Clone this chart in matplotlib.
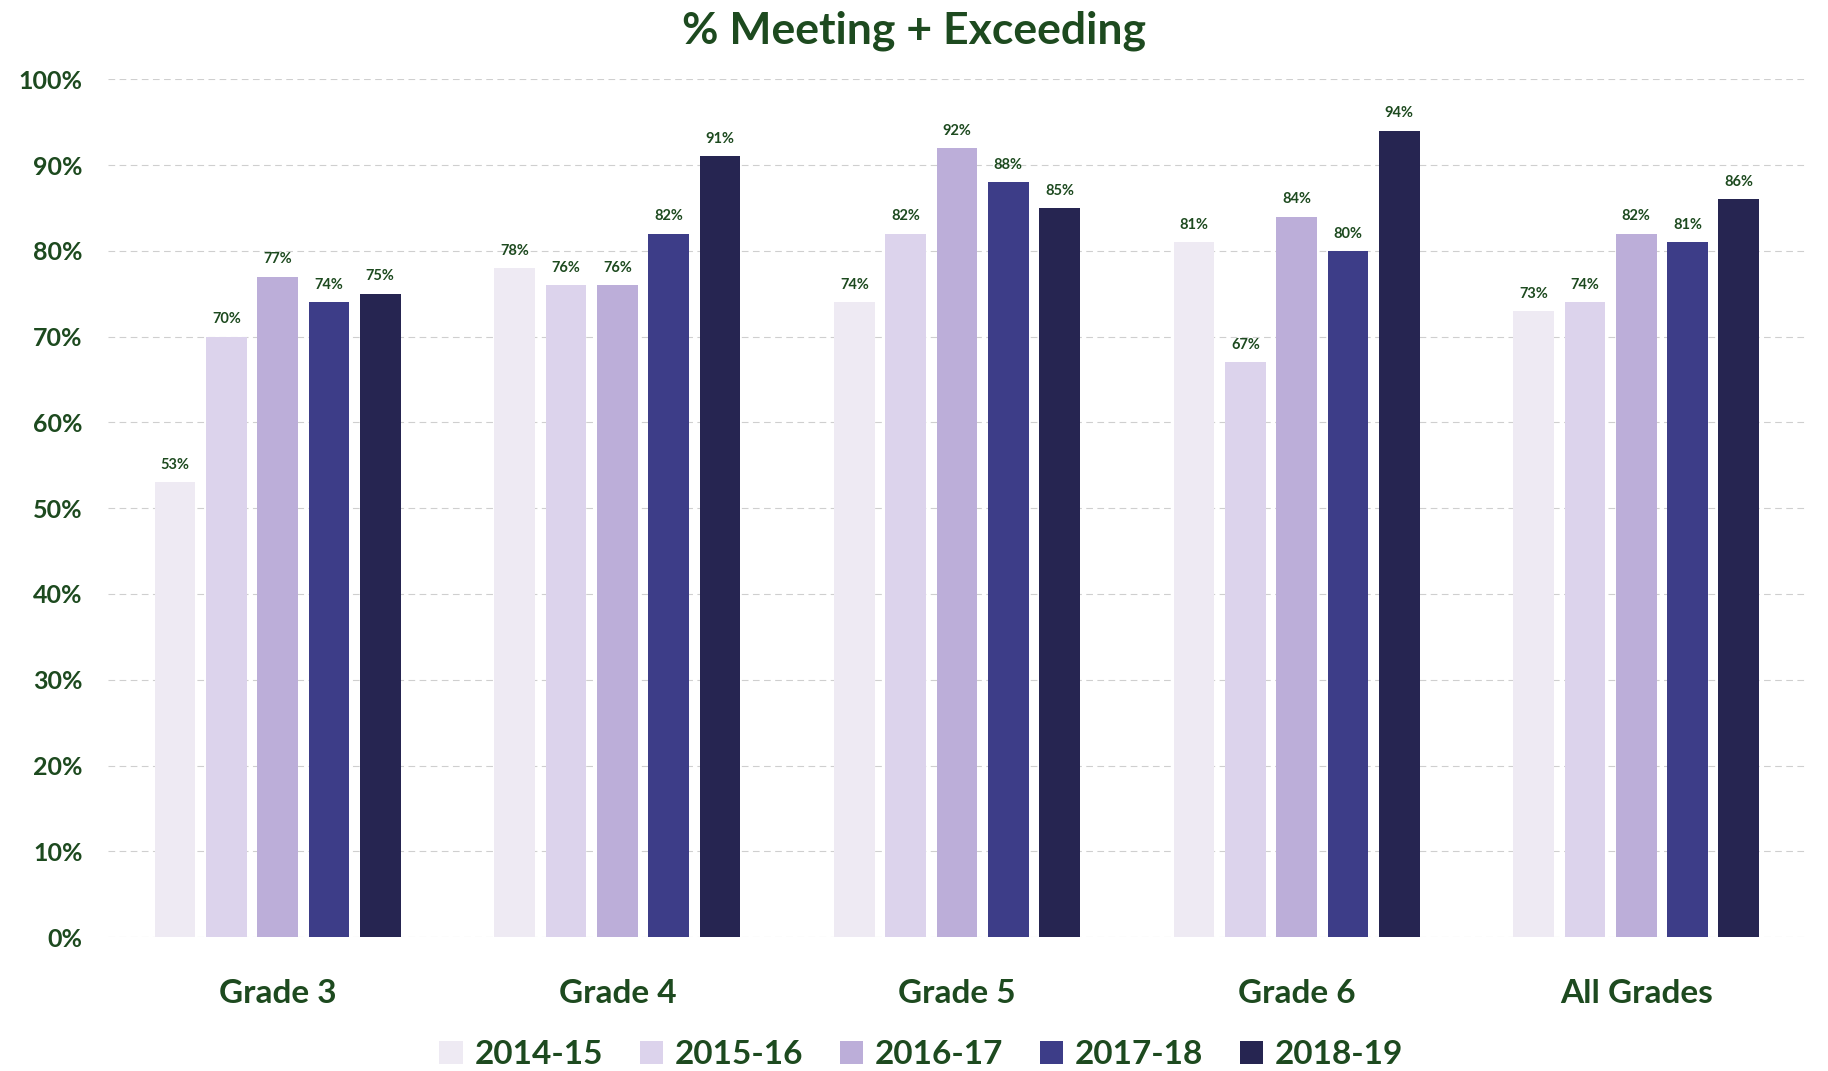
import numpy as np
import matplotlib.pyplot as plt

plt.rcParams['font.family'] = ['Lato', 'DejaVu Sans']

grades = ['Grade 3', 'Grade 4', 'Grade 5', 'Grade 6', 'All Grades']
years = ['2014-15', '2015-16', '2016-17', '2017-18', '2018-19']
v_2014 = [53, 78, 74, 81, 73]
v_2015 = [70, 76, 82, 67, 74]
v_2016 = [77, 76, 92, 84, 82]
v_2017 = [74, 82, 88, 80, 81]
v_2018 = [75, 91, 85, 94, 86]
series = [v_2014, v_2015, v_2016, v_2017, v_2018]
colors = ['#eeeaf3', '#dcd3ec', '#bcaed9', '#3d3d88', '#262551']
green = '#1d4a1f'

fig = plt.figure(figsize=(18.28, 10.71), dpi=100)
ax = fig.add_axes([0.059, 0.125, 0.929, 0.801])

x = np.arange(len(grades))
step = 0.151
width = 0.12
for i, (vals, c, yr) in enumerate(zip(series, colors, years)):
    pos = x + (i - 2) * step
    bars = ax.bar(pos, np.array(vals) / 100, width, color=c, label=yr, zorder=2)
    for b, v in zip(bars, vals):
        ax.text(b.get_x() + b.get_width() / 2, b.get_height() + 0.012, f'{v}%',
                ha='center', va='bottom', fontsize=10.5, fontweight='bold', color=green)

ax.set_xlim(-0.5, 4.5)
ax.set_ylim(0, 1.0)
ax.set_yticks(np.arange(0, 1.01, 0.1))
ax.set_yticklabels([f'{int(round(t * 100))}%' for t in np.arange(0, 1.01, 0.1)])
ax.set_xticks(x)
ax.set_xticklabels(grades)
ax.tick_params(axis='y', length=0, pad=18, labelsize=18, labelcolor=green)
ax.tick_params(axis='x', length=0, pad=30, labelsize=24, labelcolor=green)
for lab in ax.get_yticklabels() + ax.get_xticklabels():
    lab.set_fontweight('bold')
ax.grid(axis='y', color='#cfcfcf', linestyle=(0, (6, 4)), linewidth=0.8, zorder=0)
for s in ax.spines.values():
    s.set_visible(False)

fig.suptitle('% Meeting + Exceeding', y=0.99, va='top', fontsize=32, fontweight='bold', color=green)
leg = fig.legend(loc='lower center', bbox_to_anchor=(0.504, -0.026), ncol=5, frameon=False,
                 prop={'size': 24, 'weight': 'bold'}, handlelength=0.7, handleheight=0.7,
                 columnspacing=1.1, handletextpad=0.35)
for t in leg.get_texts():
    t.set_color(green)

fig.savefig('out.png', dpi=100)
